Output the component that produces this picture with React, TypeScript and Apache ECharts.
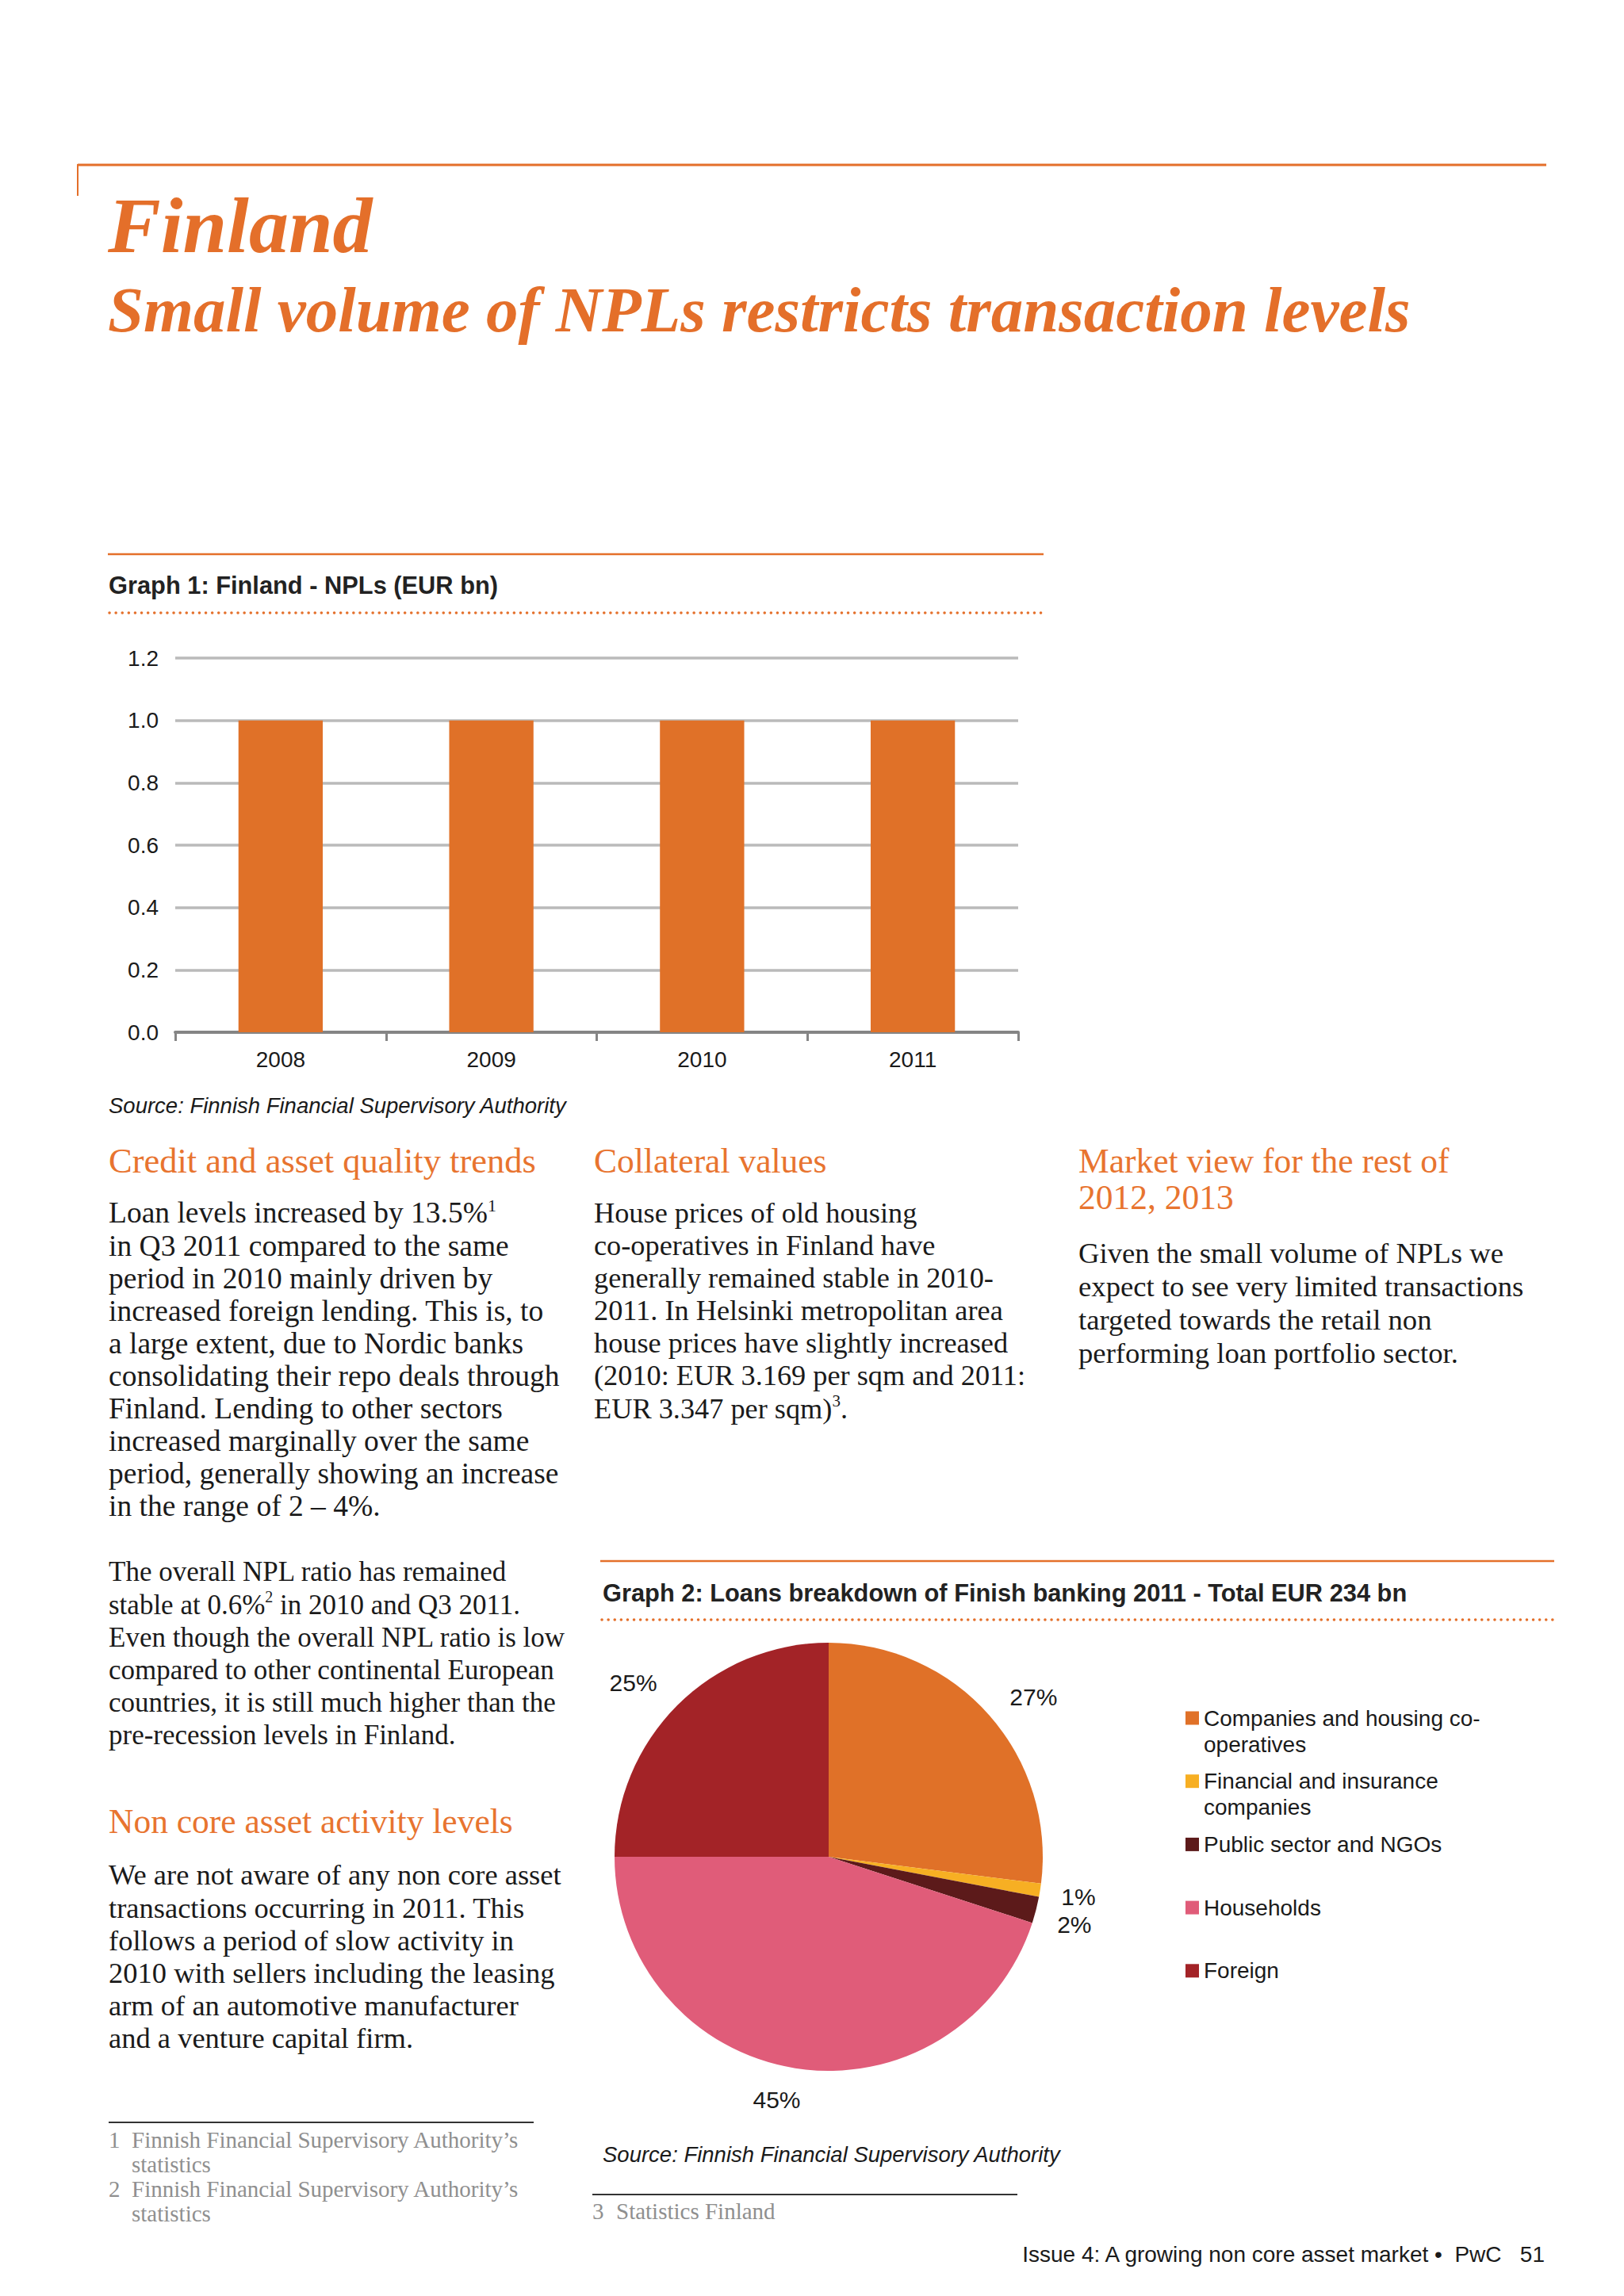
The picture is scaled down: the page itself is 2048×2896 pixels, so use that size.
import React, { useEffect, useRef } from "react";
import * as echarts from "echarts";

// ---------- DATA ----------
const years = ["2008", "2009", "2010", "2011"];
const nplValues = [1.0, 1.0, 1.0, 1.0];
const yAxisMin = 0;
const yAxisMax = 1.2;
const yAxisStep = 0.2;

const loanCategories = [
  "Companies and housing co-operatives",
  "Financial and insurance companies",
  "Public sector and NGOs",
  "Households",
  "Foreign",
];
const loanShares = [27, 1, 2, 45, 25];
const loanLegendLabels = [
  "Companies and housing co-\noperatives",
  "Financial and insurance\ncompanies",
  "Public sector and NGOs",
  "Households",
  "Foreign",
];

const pageTitle = "Finland";
const pageSubtitle = "Small volume of NPLs restricts transaction levels";
const graph1Title = "Graph 1: Finland - NPLs (EUR bn)";
const graph2Title = "Graph 2: Loans breakdown of Finish banking 2011 - Total EUR 234 bn";
const sourceText = "Source: Finnish Financial Supervisory Authority";

const col1Heading = "Credit and asset quality trends";
const col1Para1 = [
  "Loan levels increased by 13.5%¹",
  "in Q3 2011 compared to the same",
  "period in 2010 mainly driven by",
  "increased foreign lending. This is, to",
  "a large extent, due to Nordic banks",
  "consolidating their repo deals through",
  "Finland. Lending to other sectors",
  "increased marginally over the same",
  "period, generally showing an increase",
  "in the range of 2 – 4%.",
];
const col1Para2 = [
  "The overall NPL ratio has remained",
  "stable at 0.6%² in 2010 and Q3 2011.",
  "Even though the overall NPL ratio is low",
  "compared to other continental European",
  "countries, it is still much higher than the",
  "pre-recession levels in Finland.",
];
const col1Heading2 = "Non core asset activity levels";
const col1Para3 = [
  "We are not aware of any non core asset",
  "transactions occurring in 2011. This",
  "follows a period of slow activity in",
  "2010 with sellers including the leasing",
  "arm of an automotive manufacturer",
  "and a venture capital firm.",
];
const col2Heading = "Collateral values";
const col2Para = [
  "House prices of old housing",
  "co-operatives in Finland have",
  "generally remained stable in 2010-",
  "2011. In Helsinki metropolitan area",
  "house prices have slightly increased",
  "(2010: EUR 3.169 per sqm and 2011:",
  "EUR 3.347 per sqm)³.",
];
const col3Heading = ["Market view for the rest of", "2012, 2013"];
const col3Para = [
  "Given the small volume of NPLs we",
  "expect to see very limited transactions",
  "targeted towards the retail non",
  "performing loan portfolio sector.",
];
const footnotes1 = [
  ["1", "Finnish Financial Supervisory Authority’s\nstatistics"],
  ["2", "Finnish Financial Supervisory Authority’s\nstatistics"],
];
const footnote3 = ["3", "Statistics Finland"];
const footerText = "Issue 4: A growing non core asset market •  PwC   51";

// ---------- STYLE ----------
const SERIF = '"Liberation Serif", "Times New Roman", serif';
const SANS = '"Liberation Sans", Arial, Helvetica, sans-serif';
const ORANGE = "#E46F2A";
const HEAD_ORANGE = "#E8742F";
const INK = "#1a1a1a";
const loanColors = ["#E07128", "#F7AF23", "#5C1A1A", "#E05C79", "#A32327"];
// small nudges of the percentage labels (style only)
const pieLabelOffsets = [
  [16, 12],
  [-4, 0],
  [-3, 5],
  [-15, -13],
  [-18, 9],
];

const SUP: Record<string, string> = { "¹": "1", "²": "2", "³": "3" };

function txt(x: number, y: number, text: string, o: any = {}) {
  const hasSup = /[¹²³]/.test(text);
  const size = o.size ?? 36;
  const style: any = {
    text: hasSup ? text.replace(/[¹²³]/g, (c) => `{sup|${SUP[c]}}`) : text,
    fontFamily: o.family ?? SERIF,
    fontSize: size,
    fontWeight: o.weight ?? "normal",
    fontStyle: o.italic ? "italic" : "normal",
    fill: o.fill ?? INK,
    lineHeight: o.lh,
    align: o.align ?? "left",
    verticalAlign: o.va ?? "middle",
  };
  if (hasSup) {
    style.rich = {
      sup: {
        fontFamily: o.family ?? SERIF,
        fontSize: Math.round(size * 0.58),
        lineHeight: 26,
        verticalAlign: "top",
        fill: o.fill ?? INK,
      },
    };
  }
  return { type: "text", x, y, silent: true, style };
}

function para(x: number, firstCenter: number, lines: string[], lh: number, o: any = {}) {
  return txt(x, firstCenter - lh / 2, lines.join("\n"), { ...o, lh, va: "top" });
}

function hline(x1: number, x2: number, y: number, color: string, w: number, dotted = false) {
  return {
    type: "line",
    silent: true,
    shape: { x1, y1: y, x2, y2: y },
    style: dotted
      ? { stroke: color, lineWidth: w, lineDash: [0.1, 8], lineCap: "round" }
      : { stroke: color, lineWidth: w },
  };
}

const BODY_LH = 41.1;
const FOOT = "#8f8f8f";

const graphics: any[] = [
  // header
  hline(98, 1950, 208, ORANGE, 3),
  { type: "line", silent: true, shape: { x1: 98, y1: 207, x2: 98, y2: 247 }, style: { stroke: ORANGE, lineWidth: 2 } },
  txt(136, 284, pageTitle, { size: 100, weight: "bold", italic: true, fill: ORANGE }),
  txt(136, 391, pageSubtitle, { size: 81, weight: "bold", italic: true, fill: ORANGE }),

  // graph 1 frame
  hline(136, 1316, 699, ORANGE, 2.5),
  txt(137, 738, graph1Title, { family: SANS, size: 30.8, weight: "bold", fill: "#222" }),
  hline(138, 1316, 773, ORANGE, 3.5, true),
  txt(137, 1394, sourceText, { family: SANS, size: 27.5, italic: true, fill: INK }),

  // column 1
  txt(137, 1464, col1Heading, { size: 44.5, fill: HEAD_ORANGE }),
  para(137, 1530, col1Para1, BODY_LH, { size: 37.5 }),
  para(137, 1983, col1Para2, BODY_LH, { size: 35 }),
  txt(137, 2297, col1Heading2, { size: 43.5, fill: HEAD_ORANGE }),
  para(137, 2365, col1Para3, BODY_LH, { size: 36.5 }),

  // column 2
  txt(749, 1464, col2Heading, { size: 43.5, fill: HEAD_ORANGE }),
  para(749, 1530, col2Para, BODY_LH, { size: 36.3 }),

  // column 3
  para(1360, 1464, col3Heading, 46, { size: 43.5, fill: HEAD_ORANGE }),
  para(1360, 1580, col3Para, 42, { size: 36.7 }),

  // graph 2 frame
  hline(757, 1960, 1969, ORANGE, 2.5),
  txt(760, 2009, graph2Title, { family: SANS, size: 30.8, weight: "bold", fill: "#222" }),
  hline(759, 1960, 2043, ORANGE, 3.5, true),
  txt(760, 2717, sourceText, { family: SANS, size: 27.5, italic: true, fill: INK }),

  // footnotes col1
  hline(137, 673, 2677, "#333", 2),
  ...footnotes1.flatMap((f, i) => [
    para(137, 2699 + i * 62, [f[0]], 31, { size: 29, fill: FOOT }),
    para(166, 2699 + i * 62, f[1].split("\n"), 31, { size: 29, fill: FOOT }),
  ]),

  // footnote col2
  hline(747, 1283, 2768, "#333", 2),
  txt(747, 2789, footnote3[0], { size: 29, fill: FOOT }),
  txt(777, 2789, footnote3[1], { size: 29, fill: FOOT }),

  // footer
  txt(1948, 2843, footerText, { family: SANS, size: 28, fill: INK, align: "right" }),
];

const pieData = loanCategories.map((name, i) => ({
  name,
  value: loanShares[i],
  itemStyle: { color: loanColors[i] },
}));
const pieLabelData = loanCategories.map((name, i) => ({
  name,
  value: loanShares[i],
  itemStyle: { color: "rgba(0,0,0,0)" },
  label: { offset: pieLabelOffsets[i] },
}));

const option: any = {
  animation: false,
  backgroundColor: "#ffffff",
  textStyle: { fontFamily: SANS },
  grid: { left: 221, top: 830, width: 1063, height: 472, containLabel: false },
  xAxis: {
    type: "category",
    data: years,
    boundaryGap: true,
    axisLine: { lineStyle: { color: "#858585", width: 4 } },
    axisTick: { show: true, length: 11, lineStyle: { color: "#858585", width: 3 } },
    axisLabel: { fontSize: 28, color: INK, margin: 20, fontFamily: SANS },
  },
  yAxis: {
    type: "value",
    min: yAxisMin,
    max: yAxisMax,
    interval: yAxisStep,
    axisLine: { show: false },
    axisTick: { show: false },
    axisLabel: {
      fontSize: 28,
      color: INK,
      margin: 21,
      fontFamily: SANS,
      formatter: (v: number) => v.toFixed(1),
    },
    splitLine: { lineStyle: { color: "#bababa", width: 3.5 } },
  },
  legend: {
    orient: "vertical",
    left: 1495,
    top: 2167 - 49.5,
    padding: 0,
    itemWidth: 17,
    itemHeight: 17,
    itemGap: 79.7 - 99,
    itemStyle: { borderWidth: 0 },
    icon: "rect",
    selectedMode: false,
    data: loanCategories,
    formatter: (name: string) => {
      const label = loanLegendLabels[loanCategories.indexOf(name)];
      return label.indexOf("\n") >= 0 ? "\n" + label : "\n" + label + "\n";
    },
    textStyle: { fontSize: 28, lineHeight: 33, color: INK, fontFamily: SANS, padding: [0, 0, 0, 1] },
  },
  series: [
    {
      type: "bar",
      name: "NPLs",
      data: nplValues,
      barWidth: "40%",
      itemStyle: { color: "#E07128" },
      silent: true,
    },
    {
      type: "pie",
      name: "Loans",
      center: [1045, 2342],
      radius: 270,
      startAngle: 90,
      clockwise: true,
      silent: true,
      data: pieData,
      label: { show: false },
      labelLine: { show: false },
    },
    {
      type: "pie",
      name: "LoanLabels",
      center: [1045, 2342],
      radius: [300, 340],
      startAngle: 90,
      clockwise: true,
      silent: true,
      avoidLabelOverlap: false,
      minShowLabelAngle: 0,
      labelLayout: { hideOverlap: false },
      data: pieLabelData,
      label: {
        show: true,
        position: "inside",
        formatter: "{c}%",
        fontSize: 30,
        lineHeight: 22,
        color: INK,
        fontFamily: SANS,
      },
      labelLine: { show: false },
    },
  ],
  graphic: graphics,
};

export default function App() {
  const ref = useRef<HTMLDivElement>(null);
  useEffect(() => {
    const el = ref.current!;
    const chart = echarts.init(el, null, { renderer: "svg", width: 2048, height: 2896 });
    chart.setOption(option);
    return () => chart.dispose();
  }, []);
  return (
    <div
      ref={ref}
      style={{ position: "absolute", left: 0, top: 0, width: 2048, height: 2896, background: "#fff" }}
    />
  );
}
